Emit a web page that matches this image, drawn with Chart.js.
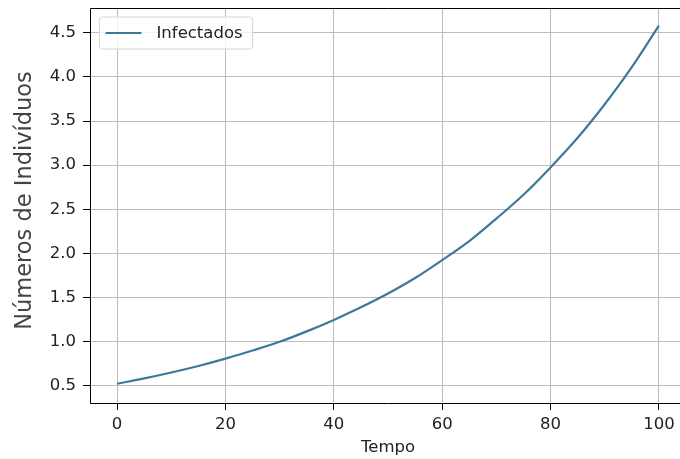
<!DOCTYPE html>
<html>
<head>
<meta charset="utf-8">
<script src="https://cdn.jsdelivr.net/npm/chart.js@4"></script>
<style>
  html, body { margin:0; padding:0; background:#fff; overflow:hidden; width:680px; height:459px; }
  #wrap { width:700px; height:459px; }
</style>
</head>
<body>
<div id="wrap"><canvas id="c" width="700" height="459"></canvas></div>
<script>
const tempo = [0, 5, 10, 15, 20, 25, 30, 35, 40, 45, 50, 55, 60, 65, 70, 75, 80, 85, 90, 95, 100];
const infectados = [0.525, 0.585, 0.652, 0.726, 0.809, 0.901, 1.0, 1.118, 1.248, 1.39, 1.546, 1.722, 1.925, 2.14, 2.395, 2.665, 2.975, 3.31, 3.69, 4.11, 4.58];
const xTicks = [0, 20, 40, 60, 80, 100];
const yTicks = [0.5, 1.0, 1.5, 2.0, 2.5, 3.0, 3.5, 4.0, 4.5];
const seriesLabel = 'Infectados';
const xTitle = 'Tempo';
const yTitle = 'Números de Indivíduos';

const FONT = 'DejaVu Sans';
const lineColor = '#3d7a98';

const framePlugin = {
  id: 'frame',
  afterDatasetsDraw(chart) {
    const {ctx, chartArea: a} = chart;
    const L = Math.round(a.left) + 0.5, T = Math.round(a.top) + 0.5, B = Math.round(a.bottom) + 0.5;
    ctx.save();
    ctx.strokeStyle = '#000';
    ctx.lineWidth = 1;
    ctx.beginPath();
    ctx.moveTo(L, T);
    ctx.lineTo(a.right, T);
    ctx.moveTo(L, T);
    ctx.lineTo(L, B);
    ctx.lineTo(a.right, B);
    ctx.stroke();
    ctx.restore();
  },
  afterDraw(chart) {
    const {ctx, chartArea: a} = chart;
    const ds = chart.data.datasets[0];
    ctx.save();
    ctx.font = '22.5px "' + FONT + '"';
    ctx.fillStyle = '#444';
    ctx.textAlign = 'center';
    ctx.textBaseline = 'middle';
    ctx.translate(25.5, (a.top + a.bottom) / 2 - 5);
    ctx.rotate(-Math.PI / 2);
    ctx.fillText(yTitle, 0, 0);
    ctx.restore();

    ctx.save();
    const x0 = a.left + 9.5, y0 = a.top + 9;
    ctx.font = '16.5px "' + FONT + '"';
    const tw = ctx.measureText(ds.label).width;
    const w = 67 + tw, h = 32;
    const r = 3;
    ctx.beginPath();
    ctx.moveTo(x0 + r, y0);
    ctx.lineTo(x0 + w - r, y0);
    ctx.arcTo(x0 + w, y0, x0 + w, y0 + r, r);
    ctx.lineTo(x0 + w, y0 + h - r);
    ctx.arcTo(x0 + w, y0 + h, x0 + w - r, y0 + h, r);
    ctx.lineTo(x0 + r, y0 + h);
    ctx.arcTo(x0, y0 + h, x0, y0 + h - r, r);
    ctx.lineTo(x0, y0 + r);
    ctx.arcTo(x0, y0, x0 + r, y0, r);
    ctx.closePath();
    ctx.fillStyle = 'rgba(255,255,255,0.8)';
    ctx.fill();
    ctx.strokeStyle = '#d6d6d6';
    ctx.lineWidth = 1;
    ctx.stroke();
    ctx.beginPath();
    ctx.moveTo(x0 + 6, y0 + 16);
    ctx.lineTo(x0 + 42, y0 + 16);
    ctx.strokeStyle = ds.borderColor;
    ctx.lineWidth = 2;
    ctx.stroke();
    ctx.fillStyle = '#222';
    ctx.textBaseline = 'middle';
    ctx.textAlign = 'left';
    ctx.fillText(ds.label, x0 + 57, y0 + 16.5);
    ctx.restore();
  }
};

new Chart(document.getElementById('c'), {
  type: 'line',
  data: {
    datasets: [{
      label: seriesLabel,
      data: tempo.map((t, i) => ({x: t, y: infectados[i]})),
      borderColor: lineColor,
      backgroundColor: lineColor,
      borderWidth: 2.2,
      pointRadius: 0,
      cubicInterpolationMode: 'monotone',
      fill: false
    }]
  },
  options: {
    responsive: false,
    animation: false,
    events: [],
    layout: { padding: { top: 8, right: 14, left: 0, bottom: 0 } },
    plugins: {
      legend: { display: false },
      tooltip: { enabled: false }
    },
    scales: {
      x: {
        type: 'linear',
        min: -5, max: 105,
        afterBuildTicks: s => { s.ticks = xTicks.map(v => ({value: v})); },
        afterFit: s => { s.height = 56; s.paddingLeft = 0; s.paddingRight = 0; },
        grid: { color: '#bdbdbd', lineWidth: 1, drawTicks: true, tickLength: 7, tickColor: '#000', tickWidth: 1 },
        border: { display: false },
        ticks: { color: '#222', font: { family: FONT, size: 16.5 }, padding: 5, maxRotation: 0, autoSkip: false,
                 callback: v => String(v) },
        title: { display: true, text: xTitle, color: '#222', font: { family: FONT, size: 16.5, lineHeight: 1.2 }, padding: { top: 0, bottom: 1.5 } }
      },
      y: {
        type: 'linear',
        min: 0.307, max: 4.78,
        afterBuildTicks: s => { s.ticks = yTicks.map(v => ({value: v})); },
        afterFit: s => { s.width = 90; s.paddingTop = 0; s.paddingBottom = 0; },
        grid: { color: '#bdbdbd', lineWidth: 1, drawTicks: true, tickLength: 7, tickColor: '#000', tickWidth: 1 },
        border: { display: false },
        ticks: { color: '#222', font: { family: FONT, size: 16.5 }, padding: 7, autoSkip: false,
                 callback: v => v.toFixed(1) },
        title: { display: false }
      }
    }
  },
  plugins: [framePlugin]
});
</script>
</body>
</html>
